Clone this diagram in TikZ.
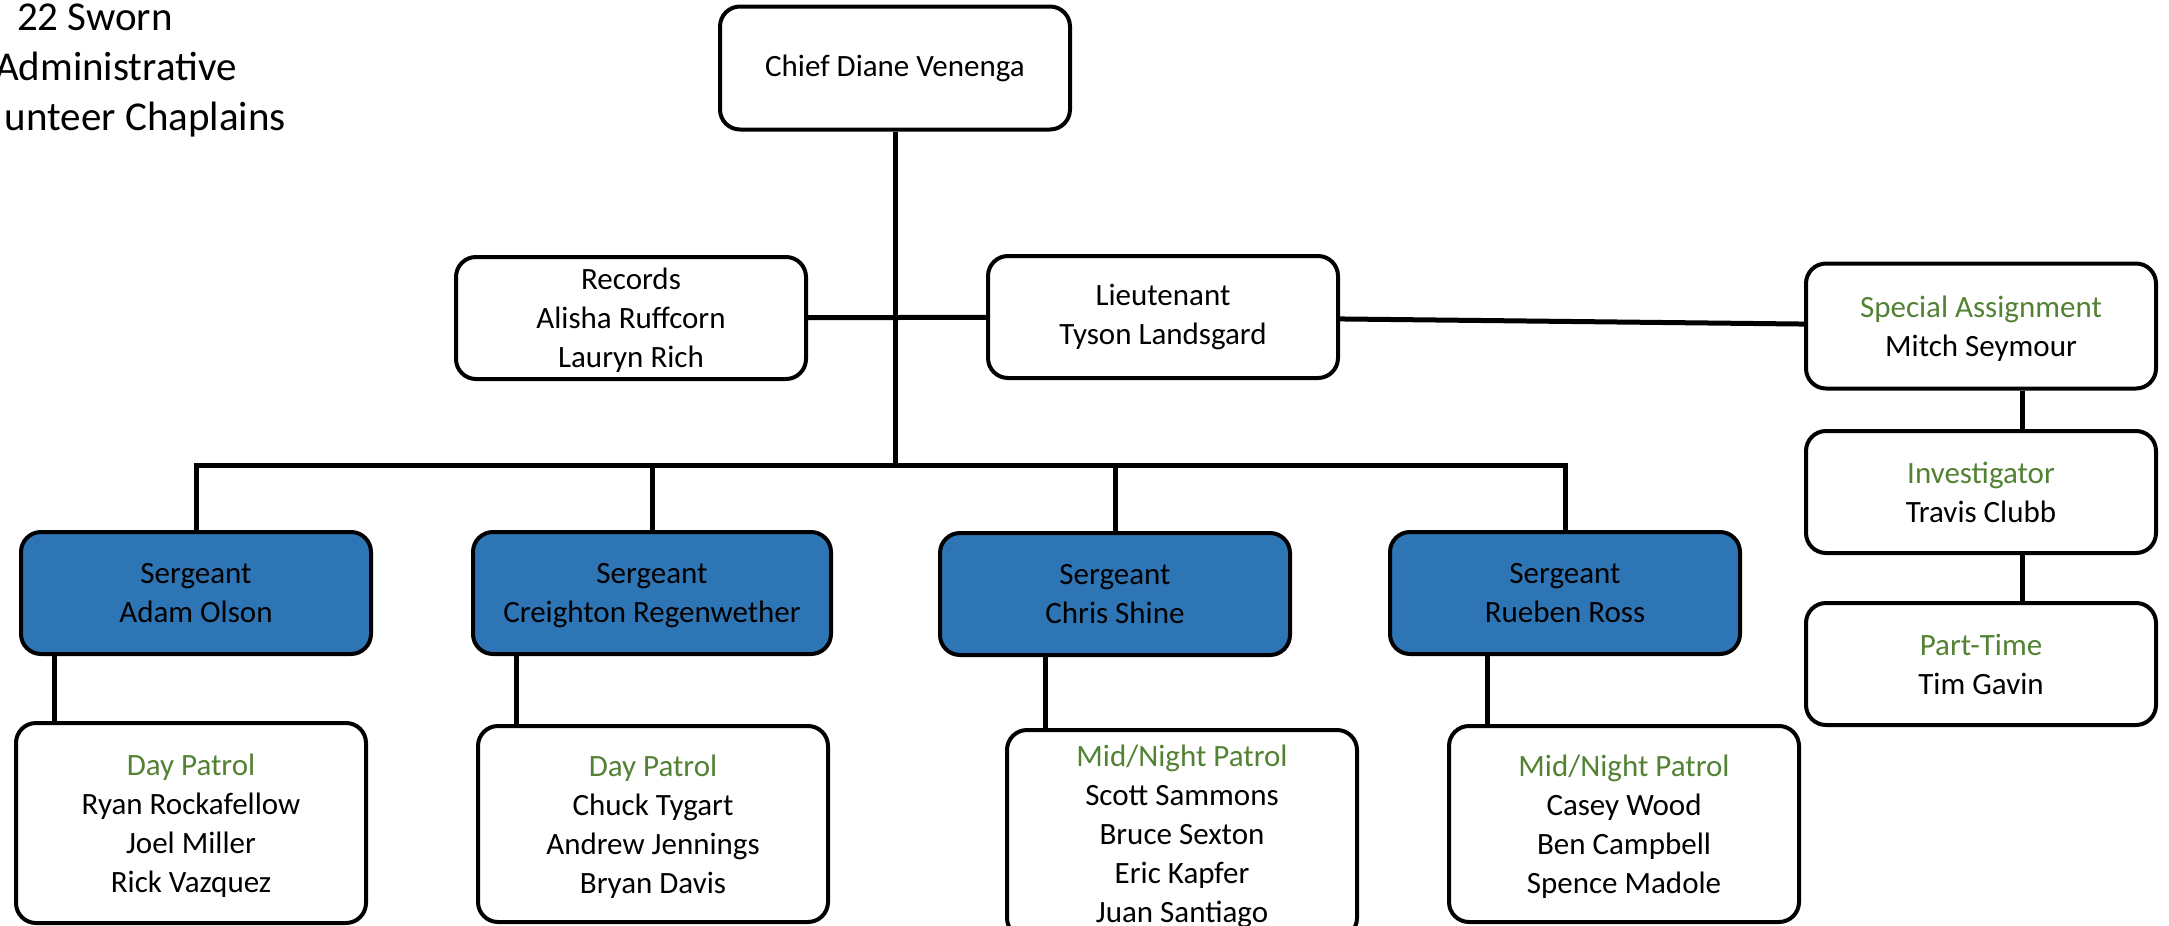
\documentclass[tikz,border=0pt]{standalone}
\usepackage{fontspec}
\setmainfont{Carlito}
\begin{document}
\begin{tikzpicture}[x=1pt,y=-1pt,
	box/.style={draw=BLACK, line width=4, rounded corners=20, fill=WHITE, inner sep=0,
		align=center, minimum width=350, minimum height=122, font=\fontsize{31}{39}\selectfont,
		text depth=-8pt},
	sgtbox/.style={box, fill=BLUE},
	link/.style={BLACK, line width=5},
	corner/.style={font=\fontsize{41}{50}\selectfont, anchor=base east, inner sep=0}]

\definecolor{BLACK}{RGB}{0,0,0}
\definecolor{WHITE}{RGB}{255,255,255}
\definecolor{BLUE}{RGB}{46,117,182}
\definecolor{GREEN}{RGB}{84,130,53}
\useasboundingbox (0,0) rectangle (2169,926);
\clip (0,0) rectangle (2169,926);

\node[corner] (sworn) at (173,30) {22 Sworn};
\node[corner] (admin) at (237,80) {Administrative};
\node[corner] (chaplains) at (286,130) {unteer Chaplains};

\node[box, minimum height=123, text depth=] (chief) at (895,68) {Chief Diane Venenga};
\node[box, text depth=-16pt] (records) at (631,318) {Records\\Alisha Ruffcorn\\Lauryn Rich};
\node[box, text depth=] (lieut) at (1163,317) {Lieutenant\\Tyson Landsgard};
\node[box, minimum height=125] (special) at (1981,326) {\textcolor{GREEN}{Special Assignment}\\Mitch Seymour};
\node[box] (invest) at (1981,492) {\textcolor{GREEN}{Investigator}\\Travis Clubb};
\node[box] (parttime) at (1981,664) {\textcolor{GREEN}{Part-Time}\\Tim Gavin};

\node[sgtbox] (sgtA) at (196,593) {Sergeant\\Adam Olson};
\node[sgtbox, minimum width=358] (sgtB) at (652,593) {Sergeant\\Creighton Regenwether};
\node[sgtbox] (sgtC) at (1115,594) {Sergeant\\Chris Shine};
\node[sgtbox] (sgtD) at (1565,593) {Sergeant\\Rueben Ross};

\node[box, minimum height=200] (patA) at (191,823)
	{\textcolor{GREEN}{Day Patrol}\\Ryan Rockafellow\\Joel Miller\\Rick Vazquez};
\node[box, minimum height=196] (patB) at (653,824)
	{\textcolor{GREEN}{Day Patrol}\\Chuck Tygart\\Andrew Jennings\\Bryan Davis};
\node[box, minimum height=208] (patC) at (1182,834)
	{\textcolor{GREEN}{Mid/Night Patrol}\\Scott Sammons\\Bruce Sexton\\Eric Kapfer\\Juan Santiago};
\node[box, minimum height=196] (patD) at (1624,824)
	{\textcolor{GREEN}{Mid/Night Patrol}\\Casey Wood\\Ben Campbell\\Spence Madole};

\coordinate (bus) at (895,465);
\draw[link] (chief) -- (bus);
\draw[link] (records) -- (lieut);
\draw[link] (lieut) -- (special);
\draw[link] (sgtA.north) |- (bus) -| (sgtD.north);
\foreach \s in {sgtB,sgtC}
	\draw[link] (\s.north) -- (\s.north |- bus);
\draw[link] ([xshift=41]special.south) -- ([xshift=41]invest.north);
\draw[link] ([xshift=41]invest.south) -- ([xshift=41]parttime.north);
\foreach \s/\p in {sgtA/patA,sgtB/patB,sgtC/patC,sgtD/patD}
	\draw[link] ([xshift=40]\p.north west) coordinate (drop) -- (drop |- \s.south);
\end{tikzpicture}
\end{document}
